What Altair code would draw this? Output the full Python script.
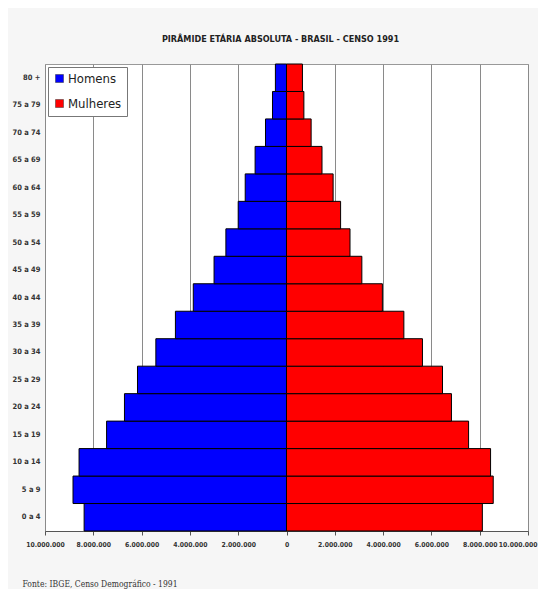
import altair as alt
import pandas as pd

idades = ["0 a 4", "5 a 9", "10 a 14", "15 a 19", "20 a 24", "25 a 29", "30 a 34",
          "35 a 39", "40 a 44", "45 a 49", "50 a 54", "55 a 59", "60 a 64",
          "65 a 69", "70 a 74", "75 a 79", "80 +"]
homens = [8380000, 8840000, 8590000, 7450000, 6710000, 6170000, 5410000, 4600000,
          3860000, 3000000, 2510000, 2000000, 1710000, 1300000, 870000, 580000, 460000]
mulheres = [8110000, 8560000, 8450000, 7540000, 6830000, 6460000, 5630000, 4860000,
            3970000, 3120000, 2630000, 2240000, 1930000, 1470000, 1020000, 720000, 660000]
ticks = [-10000000, -8000000, -6000000, -4000000, -2000000, 0,
         2000000, 4000000, 6000000, 8000000, 10000000]

rows = []
for a, h, m in zip(idades, homens, mulheres):
    rows.append({"idade": a, "sexo": "Homens", "valor": -h})
    rows.append({"idade": a, "sexo": "Mulheres", "valor": m})
df = pd.DataFrame(rows)

NARROW = "DejaVu Sans Condensed"

chart = alt.Chart(df).mark_bar(stroke="black", strokeWidth=1).encode(
    x=alt.X("valor:Q", stack=None,
            scale=alt.Scale(domain=[-10000000, 10000000], nice=False, zero=False),
            axis=alt.Axis(values=ticks, grid=True, gridColor="#8a8a8a", gridWidth=1,
                          domainColor="#555", tickColor="#555", tickSize=4,
                          labelFont=NARROW, labelFontSize=6.8, labelFontWeight="bold",
                          labelColor="#333", labelPadding=6, labelFlush=False,
                          labelOverlap=False,
                          labelAlign=alt.condition("datum.value >= 10000000",
                                                   alt.value("right"), alt.value("center")),
                          labelOffset=alt.condition("datum.value >= 10000000",
                                                    alt.value(9), alt.value(0)),
                          labelExpr="replace(format(abs(datum.value), ','), regexp(',', 'g'), '.')",
                          title="Fonte: IBGE, Censo Demográfico - 1991",
                          titleFont="DejaVu Serif Condensed",
                          titleFontSize=8.5, titleFontWeight="normal", titleColor="#333",
                          titleAnchor="start", titleAlign="left", titleBaseline="alphabetic",
                          titleX=-23, titleY=55)),
    y=alt.Y("idade:N", sort=list(reversed(idades)),
            scale=alt.Scale(paddingInner=0, paddingOuter=0),
            axis=alt.Axis(title=None, domain=False, ticks=False, grid=False,
                          labelFont=NARROW, labelFontSize=7.5, labelFontWeight="bold",
                          labelColor="#333", labelPadding=5)),
    color=alt.Color("sexo:N",
                    scale=alt.Scale(domain=["Homens", "Mulheres"], range=["#0000ff", "#ff0000"]),
                    legend=alt.Legend(title=None, orient="none", legendX=3, legendY=3,
                                      symbolType="square", symbolSize=64,
                                      symbolStrokeColor="#333", symbolStrokeWidth=0.5,
                                      labelFont=NARROW, labelFontSize=13, labelColor="#222",
                                      labelOffset=2, rowPadding=11,
                                      strokeColor="#777", fillColor="white", padding=5)),
).properties(
    width=483, height=467,
    title=alt.TitleParams("PIRÂMIDE ETÁRIA ABSOLUTA - BRASIL - CENSO 1991",
                          font=NARROW, fontSize=9, fontWeight="bold", color="#222",
                          anchor="middle", offset=20, dx=-6),
    autosize=alt.AutoSizeParams(type="none"),
    padding={"left": 37, "top": 56, "right": 10, "bottom": 58},
    background="#f6f6f6",
).configure_view(stroke="#999", fill="white")

chart.save("out.html", embed_options={"renderer": "svg", "actions": False})
